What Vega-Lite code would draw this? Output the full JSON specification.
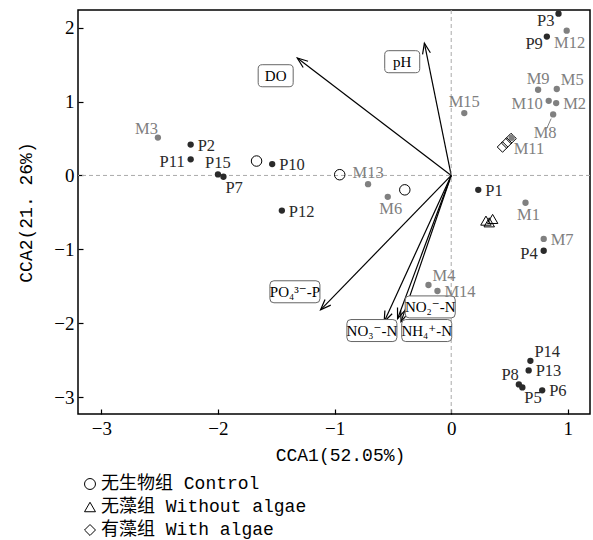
{
  "$schema": "https://vega.github.io/schema/vega-lite/v6.json",
  "width": 512,
  "height": 404,
  "autosize": {"type": "none"},
  "padding": {"left": 78, "top": 10, "right": 3, "bottom": 126},
  "background": "white",
  "config": {
    "font": "Liberation Serif",
    "view": {"stroke": "#000", "strokeWidth": 1.5},
    "axis": {"grid": false, "domain": false, "tickColor": "#000", "tickSize": -5, "tickWidth": 1.2, "labelFont": "Liberation Serif", "labelFontSize": 19, "labelColor": "#000", "titleFont": "Liberation Mono", "titleFontSize": 18, "titleFontWeight": "normal", "titleColor": "#000", "format": "d"}
  },
  "datasets": {
    "sites": [
      {"id": "P3", "t": "P", "x": 0.92, "y": 2.19, "pos": "lb"},
      {"id": "P9", "t": "P", "x": 0.82, "y": 1.88, "pos": "lb"},
      {"id": "M12", "t": "M", "x": 0.99, "y": 1.96, "pos": "b"},
      {"id": "M9", "t": "M", "x": 0.745, "y": 1.16, "pos": "a"},
      {"id": "M5", "t": "M", "x": 0.905, "y": 1.17, "pos": "ar"},
      {"id": "M10", "t": "M", "x": 0.836, "y": 1.01, "pos": "l"},
      {"id": "M2", "t": "M", "x": 0.9, "y": 0.98, "pos": "r"},
      {"id": "M8", "t": "M", "x": 0.874, "y": 0.826, "pos": "bl"},
      {"id": "M11", "t": "M", "x": 0.518, "y": 0.51, "pos": "br"},
      {"id": "M15", "t": "M", "x": 0.112, "y": 0.844, "pos": "a"},
      {"id": "P1", "t": "P", "x": 0.232, "y": -0.195, "pos": "r"},
      {"id": "M1", "t": "M", "x": 0.637, "y": -0.37, "pos": "b"},
      {"id": "M7", "t": "M", "x": 0.793, "y": -0.86, "pos": "r"},
      {"id": "P4", "t": "P", "x": 0.793, "y": -1.02, "pos": "l"},
      {"id": "P14", "t": "P", "x": 0.679, "y": -2.51, "pos": "ar"},
      {"id": "P13", "t": "P", "x": 0.664, "y": -2.64, "pos": "r"},
      {"id": "P8", "t": "P", "x": 0.58, "y": -2.83, "pos": "al"},
      {"id": "P5", "t": "P", "x": 0.61, "y": -2.87, "pos": "br"},
      {"id": "P6", "t": "P", "x": 0.78, "y": -2.91, "pos": "r"},
      {"id": "M3", "t": "M", "x": -2.515, "y": 0.513, "pos": "al"},
      {"id": "P2", "t": "P", "x": -2.234, "y": 0.418, "pos": "r"},
      {"id": "P11", "t": "P", "x": -2.234, "y": 0.218, "pos": "l"},
      {"id": "P15", "t": "P", "x": -2.0, "y": 0.014, "pos": "a"},
      {"id": "P7", "t": "P", "x": -1.953, "y": -0.018, "pos": "br"},
      {"id": "P10", "t": "P", "x": -1.535, "y": 0.154, "pos": "r"},
      {"id": "P12", "t": "P", "x": -1.452, "y": -0.476, "pos": "r"},
      {"id": "M13", "t": "M", "x": -0.713, "y": -0.118, "pos": "a"},
      {"id": "M6", "t": "M", "x": -0.544, "y": -0.29, "pos": "b"},
      {"id": "M4", "t": "M", "x": -0.195, "y": -1.483, "pos": "ar"},
      {"id": "M14", "t": "M", "x": -0.118, "y": -1.565, "pos": "r"}
    ],
    "groups": [
      {"g": "无生物组 Control", "x": -1.669, "y": 0.195},
      {"g": "无生物组 Control", "x": -0.956, "y": 0.01},
      {"g": "无生物组 Control", "x": -0.398, "y": -0.195},
      {"g": "无藻组 Without algae", "x": 0.298, "y": -0.612},
      {"g": "无藻组 Without algae", "x": 0.326, "y": -0.635},
      {"g": "无藻组 Without algae", "x": 0.355, "y": -0.589},
      {"g": "有藻组 With algae", "x": 0.44, "y": 0.385},
      {"g": "有藻组 With algae", "x": 0.475, "y": 0.44},
      {"g": "有藻组 With algae", "x": 0.513, "y": 0.5}
    ],
    "arrows": [
      {"v": "DO", "x": -1.32, "y": 1.59, "lx": -1.505, "ly": 1.35, "box": "s"},
      {"v": "pH", "x": -0.23, "y": 1.79, "lx": -0.42, "ly": 1.54, "box": "s"},
      {"v": "PO₄³⁻-P", "x": -1.12, "y": -1.82, "lx": -1.34, "ly": -1.575, "box": "l"},
      {"v": "NO₃⁻-N", "x": -0.575, "y": -1.98, "lx": -0.68, "ly": -2.1, "box": "l"},
      {"v": "NO₂⁻-N", "x": -0.46, "y": -1.94, "lx": -0.18, "ly": -1.78, "box": "l"},
      {"v": "NH₄⁺-N", "x": -0.43, "y": -1.98, "lx": -0.21, "ly": -2.1, "box": "l"}
    ]
  },
  "layer": [
    {
      "data": {"name": "arrows"},
      "mark": {"type": "rule", "color": "#000", "strokeWidth": 1.2},
      "encoding": {
        "x": {"field": "x", "type": "quantitative", "scale": {"domain": [-3.2, 1.19], "nice": false, "zero": false}, "axis": {"values": [-3, -2, -1, 0, 1], "title": "CCA1(52.05%)", "labelPadding": 10, "titlePadding": 8, "titleX": 262}},
        "y": {"field": "y", "type": "quantitative", "scale": {"domain": [-3.23, 2.24], "nice": false, "zero": false}, "axis": {"values": [-3, -2, -1, 0, 1, 2], "title": "CCA2(21. 26%)", "labelPadding": 9, "titlePadding": 18}},
        "x2": {"datum": 0},
        "y2": {"datum": 0}
      }
    },
    {
      "data": {"values": [{"z": 0}]},
      "mark": {"type": "rule", "strokeDash": [4, 3], "color": "#aaaaaa", "strokeWidth": 1},
      "encoding": {
        "x": {"field": "z", "type": "quantitative"}
      }
    },
    {
      "data": {"values": [{"z": 0}]},
      "mark": {"type": "rule", "strokeDash": [4, 3], "color": "#aaaaaa", "strokeWidth": 1},
      "encoding": {
        "y": {"field": "z", "type": "quantitative"}
      }
    },
    {
      "data": {"name": "arrows"},
      "transform": [{"calculate": "atan2(datum.x*116.63, datum.y*73.86)*180/PI", "as": "ang"}],
      "mark": {"type": "point", "shape": "M-0.38,1L0,0L0.38,1", "size": 441, "filled": false, "stroke": "#000", "strokeWidth": 1.2, "opacity": 1},
      "encoding": {
        "x": {"field": "x", "type": "quantitative"},
        "y": {"field": "y", "type": "quantitative"},
        "angle": {"field": "ang", "type": "quantitative", "scale": null}
      }
    },
    {
      "data": {"name": "arrows"},
      "transform": [{"filter": "datum.box === 's'"}],
      "mark": {"type": "point", "shape": "M-0.77,-0.63L0.77,-0.63Q1,-0.63 1,-0.4L1,0.4Q1,0.63 0.77,0.63L-0.77,0.63Q-1,0.63 -1,0.4L-1,-0.4Q-1,-0.63 -0.77,-0.63Z", "size": 1225, "filled": true, "fill": "#fff", "stroke": "#666", "strokeWidth": 1, "opacity": 1},
      "encoding": {
        "x": {"field": "lx", "type": "quantitative"},
        "y": {"field": "ly", "type": "quantitative"}
      }
    },
    {
      "data": {"name": "arrows"},
      "transform": [{"filter": "datum.box === 'l'"}],
      "mark": {"type": "point", "shape": "M-0.84,-0.44L0.84,-0.44Q1,-0.44 1,-0.28L1,0.28Q1,0.44 0.84,0.44L-0.84,0.44Q-1,0.44 -1,0.28L-1,-0.28Q-1,-0.44 -0.84,-0.44Z", "size": 2500, "filled": true, "fill": "#fff", "stroke": "#666", "strokeWidth": 1, "opacity": 1},
      "encoding": {
        "x": {"field": "lx", "type": "quantitative"},
        "y": {"field": "ly", "type": "quantitative"}
      }
    },
    {
      "data": {"name": "arrows"},
      "mark": {"type": "text", "align": "center", "baseline": "middle", "font": "Liberation Serif, DejaVu Serif", "fontSize": 15, "color": "#000"},
      "encoding": {
        "x": {"field": "lx", "type": "quantitative"},
        "y": {"field": "ly", "type": "quantitative"},
        "text": {"field": "v"}
      }
    },
    {
      "data": {"name": "groups"},
      "mark": {"type": "point", "filled": false, "stroke": "#000", "strokeWidth": 1, "size": 110, "opacity": 1},
      "encoding": {
        "x": {"field": "x", "type": "quantitative"},
        "y": {"field": "y", "type": "quantitative"},
        "shape": {"field": "g", "type": "nominal", "scale": {"domain": ["无生物组 Control", "无藻组 Without algae", "有藻组 With algae"], "range": ["circle", "triangle-up", "diamond"]},
          "legend": {"orient": "none", "legendX": 3, "legendY": 465, "title": null, "padding": 0, "rowPadding": 5, "labelFont": "Liberation Mono, Noto Sans CJK SC", "labelFontSize": 18, "labelLimit": 0, "labelColor": "#000", "labelOffset": 2, "symbolSize": 120, "symbolStrokeColor": "#000", "symbolStrokeWidth": 1, "symbolFillColor": "transparent"}}
      }
    },
    {
      "data": {"values": [{"x": 0.857, "y": 0.77, "x2": 0.819, "y2": 0.635}]},
      "mark": {"type": "rule", "color": "#808080", "strokeWidth": 1},
      "encoding": {
        "x": {"field": "x", "type": "quantitative"},
        "y": {"field": "y", "type": "quantitative"},
        "x2": {"field": "x2"},
        "y2": {"field": "y2"}
      }
    },
    {
      "data": {"name": "sites"},
      "mark": {"type": "point", "filled": true, "size": 40, "opacity": 1},
      "encoding": {
        "x": {"field": "x", "type": "quantitative"},
        "y": {"field": "y", "type": "quantitative"},
        "color": {"field": "t", "type": "nominal", "scale": {"domain": ["P", "M"], "range": ["#2a2a2a", "#808080"]}, "legend": null}
      }
    },
    {
      "data": {"name": "sites"},
      "transform": [{"filter": "datum.pos === 'r'"}],
      "mark": {"type": "text", "align": "left", "baseline": "middle", "dx": 7, "dy": 1, "fontSize": 16.5},
      "encoding": {"x": {"field": "x", "type": "quantitative"}, "y": {"field": "y", "type": "quantitative"}, "text": {"field": "id"}, "color": {"field": "t", "type": "nominal", "legend": null}}
    },
    {
      "data": {"name": "sites"},
      "transform": [{"filter": "datum.pos === 'l'"}],
      "mark": {"type": "text", "align": "right", "baseline": "middle", "dx": -6, "dy": 3, "fontSize": 16.5},
      "encoding": {"x": {"field": "x", "type": "quantitative"}, "y": {"field": "y", "type": "quantitative"}, "text": {"field": "id"}, "color": {"field": "t", "type": "nominal", "legend": null}}
    },
    {
      "data": {"name": "sites"},
      "transform": [{"filter": "datum.pos === 'lb'"}],
      "mark": {"type": "text", "align": "right", "baseline": "middle", "dx": -4, "dy": 7, "fontSize": 16.5},
      "encoding": {"x": {"field": "x", "type": "quantitative"}, "y": {"field": "y", "type": "quantitative"}, "text": {"field": "id"}, "color": {"field": "t", "type": "nominal", "legend": null}}
    },
    {
      "data": {"name": "sites"},
      "transform": [{"filter": "datum.pos === 'a'"}],
      "mark": {"type": "text", "align": "center", "baseline": "middle", "dx": 0, "dy": -11, "fontSize": 16.5},
      "encoding": {"x": {"field": "x", "type": "quantitative"}, "y": {"field": "y", "type": "quantitative"}, "text": {"field": "id"}, "color": {"field": "t", "type": "nominal", "legend": null}}
    },
    {
      "data": {"name": "sites"},
      "transform": [{"filter": "datum.pos === 'b'"}],
      "mark": {"type": "text", "align": "center", "baseline": "middle", "dx": 3, "dy": 12, "fontSize": 16.5},
      "encoding": {"x": {"field": "x", "type": "quantitative"}, "y": {"field": "y", "type": "quantitative"}, "text": {"field": "id"}, "color": {"field": "t", "type": "nominal", "legend": null}}
    },
    {
      "data": {"name": "sites"},
      "transform": [{"filter": "datum.pos === 'ar'"}],
      "mark": {"type": "text", "align": "left", "baseline": "middle", "dx": 4, "dy": -9, "fontSize": 16.5},
      "encoding": {"x": {"field": "x", "type": "quantitative"}, "y": {"field": "y", "type": "quantitative"}, "text": {"field": "id"}, "color": {"field": "t", "type": "nominal", "legend": null}}
    },
    {
      "data": {"name": "sites"},
      "transform": [{"filter": "datum.pos === 'br'"}],
      "mark": {"type": "text", "align": "left", "baseline": "middle", "dx": 2, "dy": 11, "fontSize": 16.5},
      "encoding": {"x": {"field": "x", "type": "quantitative"}, "y": {"field": "y", "type": "quantitative"}, "text": {"field": "id"}, "color": {"field": "t", "type": "nominal", "legend": null}}
    },
    {
      "data": {"name": "sites"},
      "transform": [{"filter": "datum.pos === 'al'"}],
      "mark": {"type": "text", "align": "right", "baseline": "middle", "dx": 0, "dy": -9, "fontSize": 16.5},
      "encoding": {"x": {"field": "x", "type": "quantitative"}, "y": {"field": "y", "type": "quantitative"}, "text": {"field": "id"}, "color": {"field": "t", "type": "nominal", "legend": null}}
    },
    {
      "data": {"name": "sites"},
      "transform": [{"filter": "datum.pos === 'bl'"}],
      "mark": {"type": "text", "align": "center", "baseline": "middle", "dx": -8, "dy": 19, "fontSize": 16.5},
      "encoding": {"x": {"field": "x", "type": "quantitative"}, "y": {"field": "y", "type": "quantitative"}, "text": {"field": "id"}, "color": {"field": "t", "type": "nominal", "legend": null}}
    }
  ]
}
